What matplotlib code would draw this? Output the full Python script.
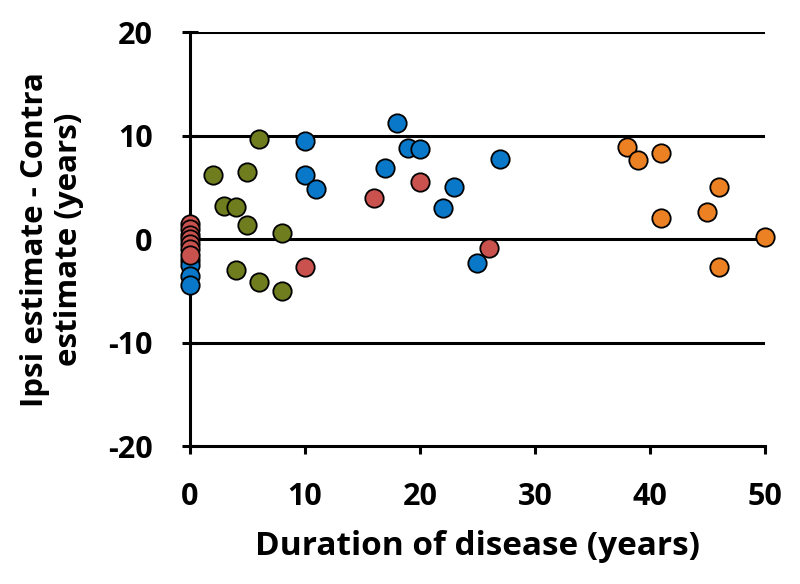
import numpy as np
import matplotlib.pyplot as plt

plt.rcParams['font.family'] = ['Open Sans', 'DejaVu Sans']
plt.rcParams['font.weight'] = 'bold'
plt.rcParams['axes.unicode_minus'] = False

# olive group
green_x = [2, 3, 4, 5, 5, 6, 8, 4, 6, 8]
green_y = [6.2, 3.2, 3.1, 6.5, 1.4, 9.7, 0.6, -3.0, -4.1, -5.0]
# blue group
blue_x = [0, 0, 0, 0, 10, 10, 11, 18, 17, 19, 20, 23, 22, 27, 25]
blue_y = [-2.0, -2.5, -3.6, -4.4, 9.5, 6.2, 4.8, 11.2, 6.9, 8.8, 8.7, 5.0, 3.0, 7.7, -2.3]
# red group
red_x = [0, 0, 0, 0, 0, 0, 0, 10, 16, 20, 26]
red_y = [1.5, 1.0, 0.4, 0.0, -0.5, -1.0, -1.5, -2.7, 4.0, 5.5, -0.9]
# orange group
orange_x = [38, 39, 41, 46, 45, 41, 50, 46]
orange_y = [8.9, 7.6, 8.3, 5.0, 2.6, 2.0, 0.2, -2.7]

fig = plt.figure(figsize=(8, 5.84), dpi=100)
ax = fig.add_axes([0.2375, 0.236, 0.7185, 0.709])

for yl in [20, 10, 0, -10]:
    ax.axhline(yl, color='black', lw=2.2, zorder=1)

kw = dict(s=175, edgecolors='black', linewidths=1.3, zorder=3, clip_on=False)
ax.scatter(green_x, green_y, color='#6f7d1f', **kw)
ax.scatter(blue_x, blue_y, color='#0a78c8', **kw)
ax.scatter(red_x, red_y, color='#c9524e', **kw)
ax.scatter(orange_x, orange_y, color='#ec8124', **kw)

ax.set_xlim(0, 50)
ax.set_ylim(-20, 20)
ax.set_xticks(range(0, 51, 10))
ax.set_yticks(range(-20, 21, 10))
for s in ['top', 'right']:
    ax.spines[s].set_visible(False)
for s in ['left', 'bottom']:
    ax.spines[s].set_linewidth(2.2)
    ax.spines[s].set_zorder(2)
ax.tick_params(axis='y', direction='inout', width=2.2, length=12, labelsize=22, pad=21)
ax.tick_params(axis='x', direction='out', width=2.2, length=6, labelsize=22, pad=20)
for lab in ax.get_xticklabels() + ax.get_yticklabels():
    lab.set_fontweight('bold')
ax.set_xlabel('Duration of disease (years)', fontsize=24, fontweight='bold', labelpad=13)
ax.set_ylabel('Ipsi estimate - Contra\nestimate (years)', fontsize=22.5, fontweight='bold', labelpad=17)

fig.savefig('out.png', dpi=100)
